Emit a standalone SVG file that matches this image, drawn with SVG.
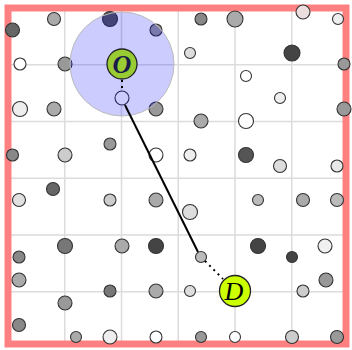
<svg xmlns="http://www.w3.org/2000/svg" width="352" height="350" viewBox="0 0 352 350">
<style>
.grid{stroke:#dcdcdc;stroke-width:1.5;fill:none}
.dot{stroke:#333;stroke-width:1.1}
.node{stroke:#222;stroke-width:1.3}
.lbl{font-family:"Liberation Serif","DejaVu Serif",serif;font-style:italic;font-size:26px;text-anchor:middle}
.conn{stroke:#000;stroke-width:2;fill:none}
.dotted{stroke:#000;stroke-width:2;stroke-dasharray:2 4;fill:none}
</style>
<rect x="0" y="0" width="352" height="350" fill="#fff"/>
<g id="grid">
<path class="grid" d="M64.75 8V344M121.5 8V344M178.25 8V344M235 8V344M291.75 8V344M8 64.75H346M8 121.5H346M8 178.25H346M8 235H346M8 291.75H346"/>
</g>
<rect id="border" x="8" y="8" width="338" height="336" fill="none" stroke="#ff8080" stroke-width="7"/>
<g id="dots">
<circle class="dot" cx="12.5" cy="30" r="7" fill="#666"/>
<circle class="dot" cx="54" cy="19" r="6.5" fill="#aaa"/>
<circle class="dot" cx="110" cy="19" r="7.5" fill="#555"/>
<circle class="dot" cx="156" cy="30" r="6" fill="#999"/>
<circle class="dot" cx="20" cy="64" r="6" fill="#fff"/>
<circle class="dot" cx="65" cy="64" r="7" fill="#999"/>
<circle class="dot" cx="20" cy="109" r="7.5" fill="#eee"/>
<circle class="dot" cx="54" cy="109" r="7" fill="#aaa"/>
<circle class="dot" cx="156" cy="109" r="7" fill="#999"/>
<circle class="dot" cx="201" cy="19" r="6" fill="#888"/>
<circle class="dot" cx="235" cy="19" r="8" fill="#aaa"/>
<circle class="dot" cx="303" cy="12" r="7" fill="#ecdede"/>
<circle class="dot" cx="338" cy="19" r="5.5" fill="#eee"/>
<circle class="dot" cx="190" cy="53" r="5.5" fill="#ddd"/>
<circle class="dot" cx="292" cy="53" r="8" fill="#444"/>
<circle class="dot" cx="344" cy="64" r="6" fill="#999"/>
<circle class="dot" cx="246" cy="76" r="5.5" fill="#fff"/>
<circle class="dot" cx="280" cy="98" r="5.5" fill="#eee"/>
<circle class="dot" cx="344" cy="109" r="7" fill="#999"/>
<circle class="dot" cx="201" cy="121" r="7" fill="#aaa"/>
<circle class="dot" cx="246" cy="121" r="7.5" fill="#fff"/>
<circle class="dot" cx="12.5" cy="155" r="6" fill="#888"/>
<circle class="dot" cx="65" cy="155" r="7" fill="#ccc"/>
<circle class="dot" cx="110" cy="144" r="6" fill="#999"/>
<circle class="dot" cx="156" cy="155" r="7" fill="#fff"/>
<circle class="dot" cx="19" cy="200" r="6.5" fill="#e0e0e0"/>
<circle class="dot" cx="53" cy="189" r="6.5" fill="#666"/>
<circle class="dot" cx="110" cy="200" r="6" fill="#ccc"/>
<circle class="dot" cx="156" cy="200" r="7" fill="#aaa"/>
<circle class="dot" cx="190" cy="155" r="6" fill="#eee"/>
<circle class="dot" cx="246" cy="155" r="7.5" fill="#555"/>
<circle class="dot" cx="280" cy="166" r="6.5" fill="#ddd"/>
<circle class="dot" cx="337" cy="166" r="6" fill="#e8e8e8"/>
<circle class="dot" cx="190" cy="212" r="7.5" fill="#ddd"/>
<circle class="dot" cx="258" cy="200" r="5.5" fill="#bbb"/>
<circle class="dot" cx="303" cy="200" r="6.5" fill="#aaa"/>
<circle class="dot" cx="337" cy="200" r="6.5" fill="#bbb"/>
<circle class="dot" cx="65" cy="246" r="7.5" fill="#777"/>
<circle class="dot" cx="122" cy="246" r="7" fill="#aaa"/>
<circle class="dot" cx="156" cy="246" r="7.5" fill="#444"/>
<circle class="dot" cx="19" cy="257" r="6" fill="#888"/>
<circle class="dot" cx="19" cy="280" r="7" fill="#aaa"/>
<circle class="dot" cx="110" cy="291" r="6" fill="#777"/>
<circle class="dot" cx="156" cy="291" r="7" fill="#aaa"/>
<circle class="dot" cx="65" cy="303" r="7" fill="#999"/>
<circle class="dot" cx="19" cy="325" r="6.5" fill="#888"/>
<circle class="dot" cx="76" cy="337" r="5.5" fill="#aaa"/>
<circle class="dot" cx="110" cy="337" r="7" fill="#eee"/>
<circle class="dot" cx="156" cy="337" r="6" fill="#fff"/>
<circle class="dot" cx="258" cy="246" r="7.5" fill="#444"/>
<circle class="dot" cx="325" cy="246" r="7" fill="#f0f0f0"/>
<circle class="dot" cx="292" cy="257" r="5.5" fill="#444"/>
<circle class="dot" cx="326" cy="280" r="7" fill="#999"/>
<circle class="dot" cx="190" cy="291" r="5.5" fill="#ddd"/>
<circle class="dot" cx="303" cy="291" r="6" fill="#ccc"/>
<circle class="dot" cx="201" cy="337" r="5.5" fill="#999"/>
<circle class="dot" cx="235" cy="337" r="5.5" fill="#fff"/>
<circle class="dot" cx="292" cy="337" r="6.5" fill="#ccc"/>
<circle class="dot" cx="337" cy="337" r="6.5" fill="#999"/>
</g>
<g id="start">
<circle class="dot" cx="122" cy="98" r="7" fill="#fff"/>
</g>
<g id="end">
<circle class="dot" cx="201" cy="257" r="5.5" fill="#bbb"/>
</g>
<g id="radius">
<circle cx="122" cy="64" r="52" fill="#0000ff" fill-opacity="0.2" stroke="#bbb" stroke-width="1"/>
</g>
<g id="connectors">
<line class="dotted" x1="122" y1="80" x2="122" y2="91"/>
<line class="conn" x1="125" y1="105" x2="198" y2="252"/>
<line class="dotted" x1="205" y1="261" x2="223" y2="279"/>
</g>
<g id="O">
<circle class="node" cx="122" cy="64" r="15" fill="#99cc33"/>
<text class="lbl" x="122" y="73" fill="#1a1a4a" font-weight="bold">O</text>
</g>
<g id="D">
<circle class="node" cx="235" cy="291" r="15.5" fill="#ccff00"/>
<text class="lbl" x="234" y="300" fill="#000">D</text>
</g>
</svg>
